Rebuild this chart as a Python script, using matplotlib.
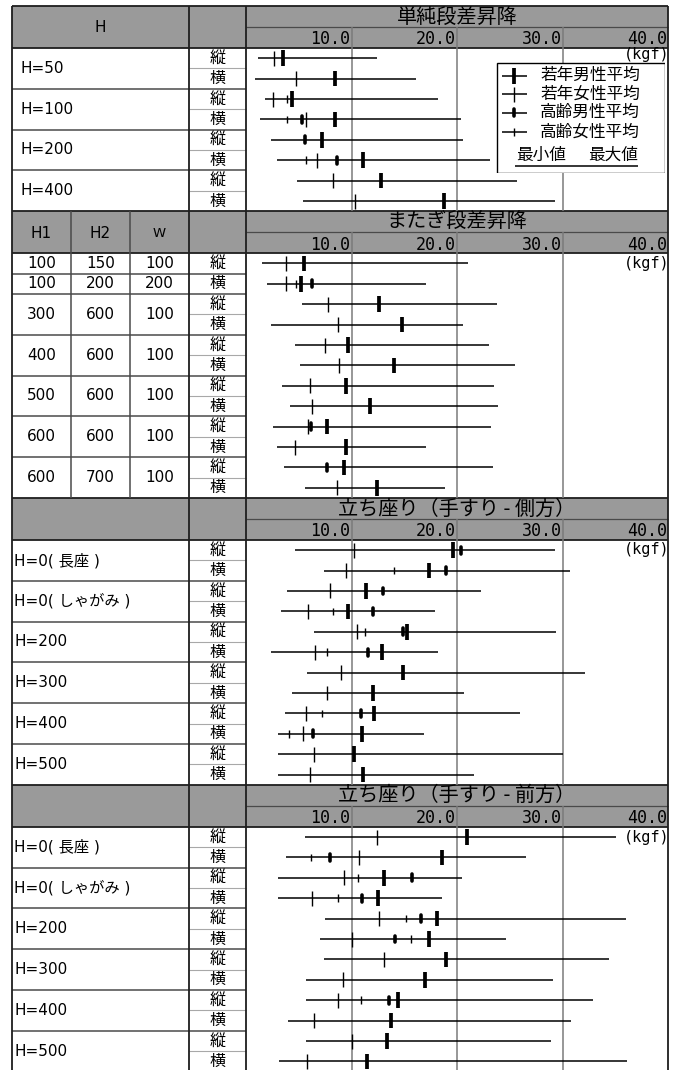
import numpy as np
import matplotlib
matplotlib.use('Agg')
import matplotlib.pyplot as plt
from matplotlib.patches import Rectangle

nan = np.nan

# ---------------- data ----------------
ticks = [10.0, 20.0, 30.0, 40.0]
unit_label = "(kgf)"
dir_labels = ["縦", "横"]
series_names = ["若年男性平均", "若年女性平均", "高齢男性平均", "高齢女性平均"]

# Section 1: 単純段差昇降
s1_title = "単純段差昇降"
s1_groups = ["H=50", "H=100", "H=200", "H=400"]
s1_min = [1.15, 0.84, 1.8, 1.3, 2.35, 2.9, 4.8, 5.4]
s1_max = [12.4, 16.1, 18.2, 20.4, 20.6, 23.1, 25.7, 29.3]
s1_ym = [3.5, 8.4, 4.4, 8.4, 7.25, 11.1, 12.8, 18.8]
s1_yf = [2.7, 4.7, 2.6, 5.7, nan, 6.75, 8.2, 10.3]
s1_om = [nan, nan, nan, 5.3, 5.6, 8.6, nan, nan]
s1_of = [nan, nan, 3.85, 3.9, nan, 5.7, nan, nan]

# Section 2: またぎ段差昇降
s2_title = "またぎ段差昇降"
s2_h1 = ["100", "100", "300", "400", "500", "600", "600"]
s2_h2 = ["150", "200", "600", "600", "600", "600", "700"]
s2_w = ["100", "200", "100", "100", "100", "100", "100"]
s2_min = [1.56, 2.0, 5.3, 2.35, 4.6, 5.1, 3.4, 4.15, 2.6, 2.95, 3.6, 5.6]
s2_max = [21.0, 17.05, 23.8, 20.6, 23.05, 25.5, 23.5, 23.9, 23.2, 17.1, 23.4, 18.9]
s2_ym = [5.5, 5.2, 12.6, 14.8, 9.7, 14.05, 9.46, 11.8, 7.7, 9.46, 9.3, 12.4]
s2_yf = [3.8, 3.8, 7.8, 8.7, 7.5, 8.8, 6.1, 6.27, 5.9, 4.6, nan, 8.6]
s2_om = [nan, 6.3, nan, nan, nan, nan, nan, nan, 6.15, nan, 7.7, nan]
s2_of = [nan, 4.7, nan, nan, nan, nan, nan, nan, nan, nan, nan, nan]

# Section 3: 立ち座り（手すり-側方）
s3_title = "立ち座り（手すり - 側方）"
s34_groups = ["H=0( 長座 )", "H=0( しゃがみ )", "H=200", "H=300", "H=400", "H=500"]
s3_min = [4.6, 7.4, 3.9, 3.3, 6.4, 2.35, 5.8, 4.4, 3.7, 3.05, 3.05, 3.05]
s3_max = [29.3, 30.7, 22.3, 17.9, 29.4, 18.2, 32.1, 20.65, 25.95, 16.85, 30.0, 21.6]
s3_ym = [19.6, 17.3, 11.4, 9.7, 15.3, 12.9, 14.9, 12.05, 12.15, 10.95, 10.25, 11.1]
s3_yf = [10.25, 9.5, 8.0, 5.9, 10.5, 6.5, 9.05, 7.7, 5.7, 5.4, 6.4, 6.05]
s3_om = [20.4, 19.0, 13.0, 12.05, 14.9, 11.6, nan, nan, 10.9, 6.35, nan, nan]
s3_of = [nan, 14.0, nan, 8.2, 11.3, 7.7, nan, nan, 7.25, 4.1, nan, nan]

# Section 4: 立ち座り（手すり-前方）
s4_title = "立ち座り（手すり - 前方）"
s4_min = [5.6, 3.75, 3.05, 3.05, 7.5, 7.0, 7.4, 5.7, 5.7, 4.0, 5.7, 3.15]
s4_max = [35.1, 26.5, 20.5, 18.6, 36.0, 24.6, 34.4, 29.1, 32.85, 30.85, 28.95, 36.1]
s4_ym = [20.96, 18.6, 13.1, 12.5, 18.15, 17.3, 19.0, 16.95, 14.4, 13.7, 13.4, 11.45]
s4_yf = [12.4, 10.7, 9.3, 6.27, 12.6, 10.06, 13.1, 9.15, 8.7, 6.4, 10.06, 5.8]
s4_om = [nan, 8.0, 15.7, 10.95, 16.6, 14.1, nan, nan, 13.6, nan, nan, nan]
s4_of = [nan, 6.15, 10.6, 8.7, 15.2, 15.6, nan, nan, 10.9, nan, nan, nan]

# ---------------- layout / style ----------------
W_PX, H_PX = 682, 1070
fig = plt.figure(figsize=(W_PX / 100, H_PX / 100), dpi=100)

LAT = ['DejaVu Sans', 'Noto Sans CJK JP']
CJK = ['Noto Sans CJK JP', 'DejaVu Sans']
MONO = ['DejaVu Sans Mono']

GREY = '#9a9a9a'
GRID = '#7a7a7a'
DARK = '#1e1e1e'
MID = '#4a4a4a'
LIGHT = '#a8a8a8'

X0, X1, X2, X3 = 12, 189, 246, 668
R = 20.4
HDR_TOP = 21.0
HDR = 42.0

secs = []
top = 6.0
for n in [8, 12, 12, 12]:
    secs.append((top, top + HDR, top + HDR + n * R, n))
    top = top + HDR + n * R

bg = fig.add_axes([0, 0, 1, 1])
bg.set_xlim(0, W_PX)
bg.set_ylim(H_PX, 0)
bg.axis('off')

# mark styles: (linewidth pt, half height px, thick?, capstyle)
STY = {'ym': (2.7, 7.8, True, 'butt'), 'yf': (1.0, 7.5, False, 'butt'),
       'om': (2.6, 5.2, True, 'round'), 'of': (1.0, 3.8, False, 'butt')}


def draw_marks(ax, xs, ys, key, unit):
    lw, half, thick, cap = STY[key]
    xs = np.asarray(xs, float)
    ys = np.asarray(ys, float)
    ok = ~np.isnan(xs)
    if not ok.any():
        return
    h = half
    if cap == 'round':
        h = half - (lw / 0.72) / 2.0
    lc = ax.vlines(xs[ok], ys[ok] - h / unit, ys[ok] + h / unit,
                   color='black', lw=lw, zorder=4)
    lc.set_capstyle(cap)


def group_lines(t, rt, b, n, group_bounds, sub_bounds):
    bg.hlines([rt + k * R for k in group_bounds], X0, X2, color=MID, lw=1.1, zorder=2)
    bg.hlines([rt + k * R for k in sub_bounds], X1, X2, color=LIGHT, lw=0.8, zorder=2)


# table frames
for i, (t, rt, b, n) in enumerate(secs):
    bg.add_patch(Rectangle((X0, t), X3 - X0, HDR, facecolor=GREY,
                           edgecolor='none', zorder=0))
    bg.hlines(t + HDR_TOP, X2, X3, color=MID, lw=0.9, zorder=2)
    bg.hlines([t, rt], X0, X3, color=DARK, lw=1.3, zorder=3)
    bg.vlines([X0, X1, X2, X3], t, min(b, H_PX + 5), color=DARK, lw=1.3, zorder=3)
    for r in range(n):
        bg.text((X1 + X2) / 2, rt + (r + 0.5) * R, dir_labels[r % 2],
                family=CJK, fontsize=11.5, ha='center', va='center')

# section 1 left
t, rt, b, n = secs[0]
bg.text((X0 + X1) / 2, t + HDR / 2, "H", family=LAT, fontsize=11,
        ha='center', va='center')
for g, lab in enumerate(s1_groups):
    bg.text(21, rt + (2 * g + 1) * R, lab, family=LAT, fontsize=11,
            ha='left', va='center')
group_lines(t, rt, b, n, [2, 4, 6], [1, 3, 5, 7])

# section 2 left
t, rt, b, n = secs[1]
CA, CB = 71, 130
bg.vlines([CA, CB], t, b, color=MID, lw=1.1, zorder=3)
hc = [(X0 + CA) / 2, (CA + CB) / 2, (CB + X1) / 2]
bg.text(hc[0], t + HDR / 2 + 1, "H1", family=LAT, fontsize=11, ha='center', va='center')
bg.text(hc[1], t + HDR / 2 + 1, "H2", family=LAT, fontsize=11, ha='center', va='center')
bg.text(hc[2], t + HDR / 2 + 1, "W", family=['Liberation Sans Narrow', 'DejaVu Sans'],
        fontsize=9.5, ha='center', va='center')
row_centers2 = [rt + 0.5 * R, rt + 1.5 * R] + [rt + (2 * g + 3) * R for g in range(5)]
for yc, a, bb, c in zip(row_centers2, s2_h1, s2_h2, s2_w):
    bg.text(hc[0], yc, a, family=LAT, fontsize=11, ha='center', va='center')
    bg.text(hc[1], yc, bb, family=LAT, fontsize=11, ha='center', va='center')
    bg.text(hc[2], yc, c, family=LAT, fontsize=11, ha='center', va='center')
group_lines(t, rt, b, n, [1, 2, 4, 6, 8, 10], [3, 5, 7, 9, 11])

# sections 3, 4 left
for si in (2, 3):
    t, rt, b, n = secs[si]
    for g, lab in enumerate(s34_groups):
        bg.text(14, rt + (2 * g + 1) * R, lab, family=LAT, fontsize=11,
                ha='left', va='center')
    group_lines(t, rt, b, n, [2, 4, 6, 8, 10], [1, 3, 5, 7, 9, 11])

titles = [s1_title, s2_title, s3_title, s4_title]
data = [
    (s1_min, s1_max, s1_ym, s1_yf, s1_om, s1_of),
    (s2_min, s2_max, s2_ym, s2_yf, s2_om, s2_of),
    (s3_min, s3_max, s3_ym, s3_yf, s3_om, s3_of),
    (s4_min, s4_max, s4_ym, s4_yf, s4_om, s4_of),
]
unit_off = [7.0, 10.0, 10.0, 10.5]

for (t, rt, b, n), title, (mn, mx, ym, yf, om, of), uo in zip(secs, titles, data, unit_off):
    bg.text((X2 + X3) / 2, t + HDR_TOP / 2 + 0.5, title, family=CJK,
            fontsize=14.5, ha='center', va='center')
    ax_top = t + HDR_TOP
    ax = fig.add_axes([X2 / W_PX, 1 - b / H_PX, (X3 - X2) / W_PX, (b - ax_top) / H_PX])
    ax.axis('off')
    ytop = -0.5 - (rt - ax_top) / R
    ax.set_xlim(0, 40)
    ax.set_ylim(n - 0.5, ytop)
    ax.vlines(ticks[:-1], ytop, n - 0.5, color=GRID, lw=1.1, zorder=1)
    for v in ticks:
        ax.text(v - 0.1, -0.5 + 0.3 / R, f"{v:.1f}", family=MONO, fontsize=12,
                ha='right', va='bottom')
    ax.text(40.15, -0.5 + uo / R, unit_label, family=MONO, fontsize=11,
            ha='right', va='center', zorder=2)
    rows = np.arange(n)
    ax.hlines(rows, mn, mx, color='black', lw=1.1, zorder=3)
    draw_marks(ax, yf, rows, 'yf', R)
    draw_marks(ax, of, rows, 'of', R)
    draw_marks(ax, ym, rows, 'ym', R)
    draw_marks(ax, om, rows, 'om', R)

# legend box (section 1)
LX0, LX1, LY0, LY1 = 496, 665, 62, 173
lax = fig.add_axes([LX0 / W_PX, 1 - LY1 / H_PX, (LX1 - LX0) / W_PX, (LY1 - LY0) / H_PX])
lax.set_xlim(LX0, LX1)
lax.set_ylim(LY1, LY0)
lax.axis('off')
lax.add_patch(Rectangle((LX0 + 0.5, LY0 + 0.5), LX1 - LX0 - 1, LY1 - LY0 - 1,
                        facecolor='white', edgecolor='black', lw=1.0, zorder=0))
leg_y = [75.7, 94.0, 112.7, 131.7]
for key, name, yy in zip(['ym', 'yf', 'om', 'of'], series_names, leg_y):
    lax.hlines(yy, 501.7, 526.7, color='black', lw=1.1, zorder=3)
    draw_marks(lax, [514.0], [yy], key, 1.0)
    lax.text(540, yy, name, family=CJK, fontsize=12, ha='left', va='center')
lax.text(516, 155.5, "最小値", family=CJK, fontsize=12, ha='left', va='center')
lax.text(638, 155.5, "最大値", family=CJK, fontsize=12, ha='right', va='center')
lax.hlines(166, 515, 638, color='black', lw=1.1)

fig.savefig('out.png', dpi=100)
